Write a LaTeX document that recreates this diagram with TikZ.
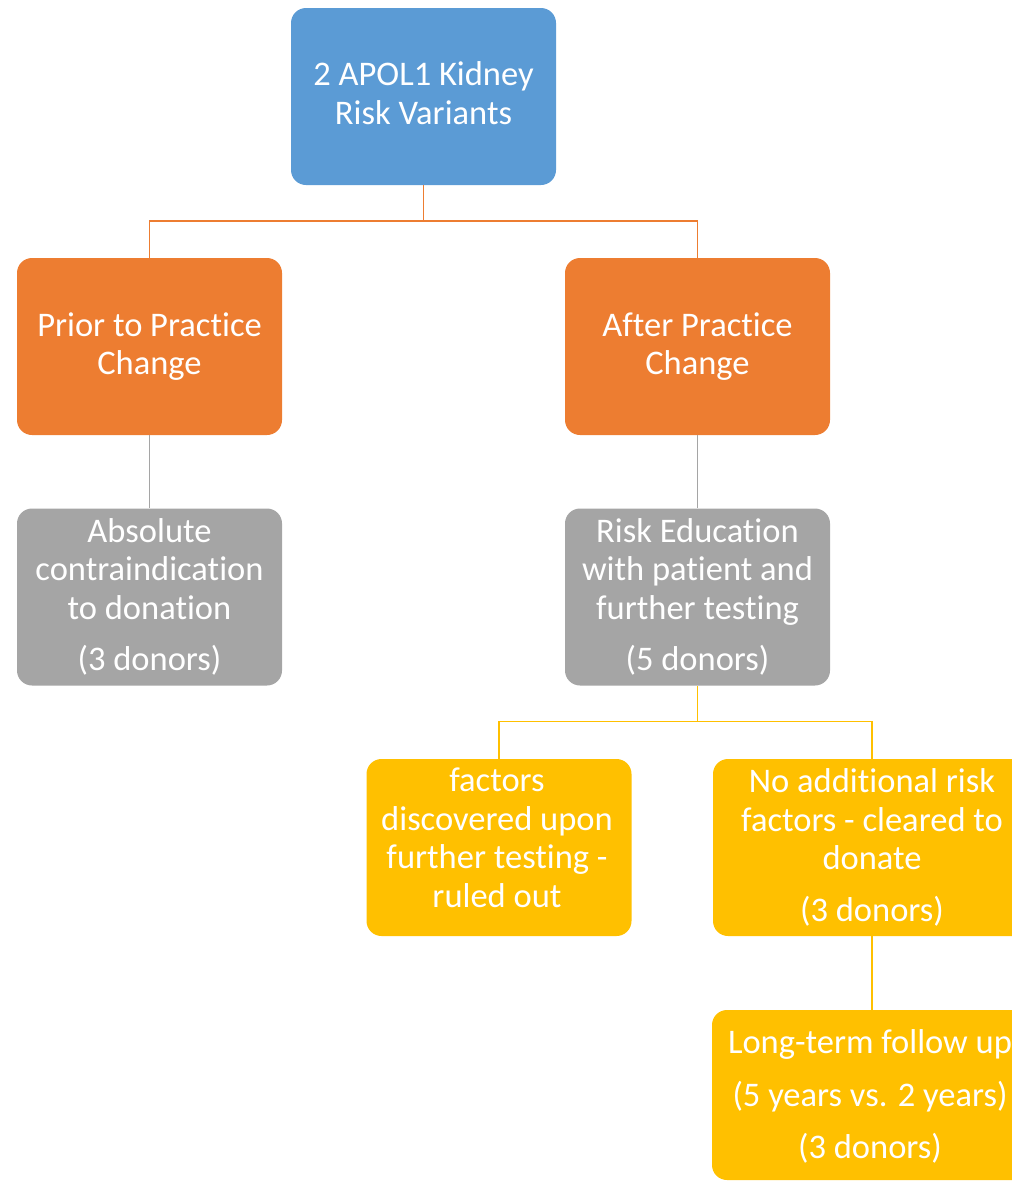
\documentclass[tikz,border=0pt]{standalone}
\usepackage{fontspec}
\setmainfont[Ligatures={NoCommon,NoContextual}]{Carlito}
\definecolor{cblue}{HTML}{5B9BD5}
\definecolor{corange}{HTML}{ED7D31}
\definecolor{cgrey}{HTML}{A5A5A5}
\definecolor{cyellow}{HTML}{FFC000}
\begin{document}
\begin{tikzpicture}[x=1pt,y=-1pt,
  box/.style={rounded corners=15pt,minimum width=265pt,minimum height=177pt,inner sep=0pt,
    text=white,align=center,font=\fontsize{34.5}{38.5}\selectfont},
  txt/.style={inner sep=0pt,text=white,align=center,font=\fontsize{34.5}{38.5}\selectfont},
  conn/.style={line width=1.5pt}]
\useasboundingbox (0,0) rectangle (1012,1181);
\clip (0,0) rectangle (1012,1181);
% boxes
\node[box,fill=cblue] (top) at (423.5,96.5) {};
\node[txt] (topt) at (423.5,93) {2 APOL1 Kidney\\Risk Variants};
\node[box,fill=corange] (oL) at (149.5,346.5) {Prior to Practice\\Change};
\node[box,fill=corange] (oR) at (697.5,346.5) {After Practice\\Change};
\node[box,fill=cgrey] (gL) at (149.5,597) {Absolute\\contraindication\\to donation\\[13pt](3 donors)};
\node[box,fill=cgrey] (gR) at (697.5,597) {Risk Education\\with patient and\\further testing\\[13pt](5 donors)};
\node[box,fill=cyellow] (yL) at (499,847.5) {};
\node[txt] (yLt) at (497,838) {factors\\discovered upon\\further testing -\\ruled out};
\node[box,fill=cyellow,minimum width=318pt] (yR) at (872,847.5) {No additional risk\\factors - cleared to\\donate\\[13pt](3 donors)};
\node[box,fill=cyellow,minimum width=320pt,minimum height=170pt] (bot) at (872,1095) {};
\node[txt] (bott) at (870,1096) {Long-term follow up\\[15pt](5 years vs. 2 years)\\[13pt](3 donors)};
% connectors
\draw[conn,corange] (top.south) -- ++(0,36) coordinate (j1);
\draw[conn,corange] (j1) -| (oL.north);
\draw[conn,corange] (j1) -| (oR.north);
\draw[conn,cgrey] (oL.south) -- (gL.north);
\draw[conn,cgrey] (oR.south) -- (gR.north);
\draw[conn,cyellow] (gR.south) -- ++(0,36) coordinate (j2);
\draw[conn,cyellow] (j2) -| (yL.north);
\draw[conn,cyellow] (j2) -| (yR.north);
\draw[conn,cyellow] (yR.south) -- (bot.north);
\end{tikzpicture}
\end{document}
